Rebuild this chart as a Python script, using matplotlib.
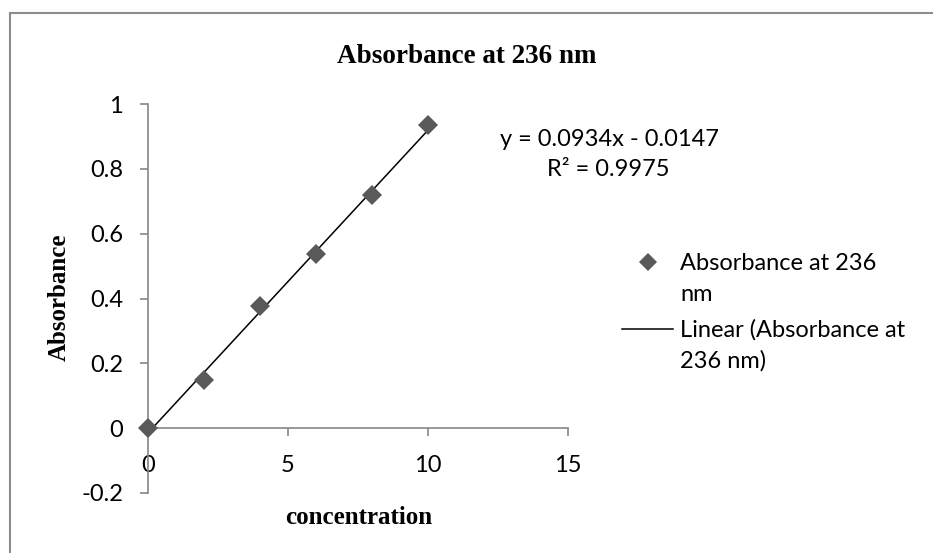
import numpy as np
import matplotlib
matplotlib.use('Agg')
import matplotlib.pyplot as plt
from matplotlib.lines import Line2D

concentration = [0, 2, 4, 6, 8, 10]
absorbance = [0.0, 0.149, 0.376, 0.537, 0.718, 0.934]
x_ticks = [0, 5, 10, 15]
y_ticks = [-0.2, 0, 0.2, 0.4, 0.6, 0.8, 1]
y_tick_labels = ['-0.2', '0', '0.2', '0.4', '0.6', '0.8', '1']
series_name = 'Absorbance at 236 nm'
legend_lines = [['Absorbance at 236', 'nm'],
                ['Linear (Absorbance at', '236 nm)']]

tick_font = 'Lato'
serif = 'Liberation Serif'
axis_grey = '#868686'
marker_grey = '#595959'

fig = plt.figure(figsize=(9.33, 5.53), dpi=100)
ax = fig.add_axes([0.1586, 0.1085, 0.4502, 0.7034])

# linear trendline, like Excel's
slope, intercept = np.polyfit(concentration, absorbance, 1)
r2 = np.corrcoef(concentration, absorbance)[0, 1] ** 2
fit_x = np.array([concentration[0], concentration[-1]])
ax.plot(fit_x, slope * fit_x + intercept, color='black', lw=1.1, zorder=2)
ax.plot(concentration, absorbance, 'D', color=marker_grey, ms=10, mew=0,
        zorder=3, clip_on=False)

ax.set_xlim(0, 15)
ax.set_ylim(-0.2, 1)
ax.spines['top'].set_visible(False)
ax.spines['right'].set_visible(False)
ax.spines['bottom'].set_position(('data', 0))
for s in ('left', 'bottom'):
    ax.spines[s].set_color(axis_grey)
    ax.spines[s].set_linewidth(1.2)

ax.set_xticks(x_ticks)
ax.set_yticks(y_ticks)
ax.set_yticklabels(y_tick_labels)
ax.tick_params(axis='both', direction='out', length=6, width=1.2,
               color=axis_grey, labelsize=17)
ax.tick_params(axis='y', pad=12)
ax.tick_params(axis='x', pad=13)
for lab in ax.get_xticklabels() + ax.get_yticklabels():
    lab.set_fontfamily(tick_font)

fig.text(0.5, 0.897, series_name, ha='center', va='center',
         fontsize=19.5, fontweight='bold', family=serif)
fig.text(0.384, 0.065, 'concentration', ha='center', va='center',
         fontsize=18, fontweight='bold', family=serif)
fig.text(0.064, 0.463, 'Absorbance', ha='center', va='center', rotation=90,
         fontsize=18, fontweight='bold', family=serif)

fig.text(0.536, 0.747, 'y = %.4fx - %.4f' % (slope, -intercept), ha='left',
         va='center', fontsize=17, family=tick_font)
fig.text(0.586, 0.693, 'R² = %.4f' % r2, ha='left', va='center',
         fontsize=17, family=tick_font)

# legend, drawn by hand so the handles sit on the first text line
W, H = 933.0, 553.0
fig.add_artist(Line2D([648 / W], [1 - 262 / H], ls='none', marker='D',
                      color=marker_grey, ms=9, mew=0,
                      transform=fig.transFigure))
fig.add_artist(Line2D([622 / W, 673 / W], [1 - 329 / H] * 2,
                      color='black', lw=1.1, transform=fig.transFigure))
baselines = [[270, 301], [337, 368]]
for lines, ys in zip(legend_lines, baselines):
    for txt, yb in zip(lines, ys):
        fig.text(680 / W, 1 - yb / H, txt, ha='left', va='baseline',
                 fontsize=17, family=tick_font)

fig.add_artist(Line2D([0.0107, 1], [0.9756, 0.9756], color='#8c8c8c', lw=1.5,
                      transform=fig.transFigure))
fig.add_artist(Line2D([0.0107, 0.0107], [0, 0.9756], color='#8c8c8c', lw=1.5,
                      transform=fig.transFigure))

fig.savefig('out.png', dpi=100)
